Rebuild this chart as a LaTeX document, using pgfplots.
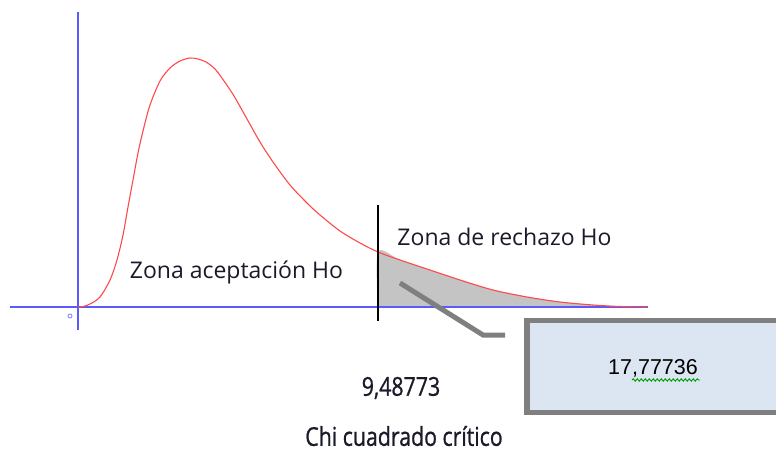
\documentclass[border=0pt]{standalone}
\usepackage{pgfplots}
\pgfplotsset{compat=1.18}
\usepackage{fontspec}
\usepackage{graphicx}
\usetikzlibrary{decorations.pathmorphing}
\setmainfont{Open Sans}
\newfontfamily\arialf{Liberation Sans}
\newfontfamily\condf[FakeBold=1.0]{Open Sans}
\definecolor{axblue}{HTML}{5A5AFF}
\definecolor{curvered}{HTML}{FF4848}
\definecolor{boxfill}{HTML}{DCE6F2}
\definecolor{boxgray}{HTML}{7F7F7F}
\definecolor{shade}{HTML}{C4C4C4}
\definecolor{txt}{HTML}{1A1A2A}
\begin{document}
\begin{tikzpicture}
\begin{axis}[
  x=1pt, y=1pt,
  xmin=-78, xmax=698, ymin=-144, ymax=307,
  hide axis, clip=true,
]
\coordinate (bl) at (rel axis cs:0,0);
\coordinate (tr) at (rel axis cs:1,1);
% shaded rejection region
\addplot[fill=shade, draw=none, smooth, tension=0.5] coordinates {
(300,0)(300,55)(322,47)(349,38)(382,27)(415,17)(449,10)(482,5)(515,2)(542,0.5)(569,0)
} \closedcycle;
% axes
\addplot[draw=axblue, color=axblue, line width=1.6pt] coordinates {(-68,0)(570,0)};
\addplot[draw=axblue, color=axblue, line width=1.6pt] coordinates {(0,295)(0,-23)};
% chi-square curve
\addplot[draw=curvered, line width=1.1pt, smooth, tension=0.5] coordinates {
(0,0)(5,0.5)(12,3)(22,10)(32,27)(39,47)(45,72)(50,100)(55,127)(60,154)(65,176)(72,202)(82,226)(92,239)(102,246)(112,249)(120,248)(128,245)(137,238)(146,226)(156,211)(169,188)(182,165)(195,145)(212,122)(229,104)(242,92)(262,76)(282,64)(300,55)(322,47)(349,38)(382,27)(415,17)(449,10)(482,5)(515,2)(542,0.5)(569,0)
};
% critical value line
\addplot[draw=black, line width=1.3pt] coordinates {(300,102)(300,-14)};
% small origin circle
\draw[axblue!70, line width=0.9pt] (axis cs:-8,-9) circle[radius=2pt];
% leader line
\draw[boxgray, line width=5pt] (axis cs:322,24) -- (axis cs:405,-28) -- (axis cs:427,-28);
% value box (right side cut by the picture edge)
\fill[boxfill] (axis cs:449,-13.5) rectangle (axis cs:760,-105.5);
\draw[boxgray, line width=5.5pt] (axis cs:760,-13.5) -- (axis cs:449,-13.5) -- (axis cs:449,-105.5) -- (axis cs:760,-105.5);
\node[text=black, font=\arialf\fontsize{21.5}{21.5}\selectfont] at (axis cs:575,-61) {17,77736};
\draw[green!60!black, line width=0.9pt, decorate, decoration={snake, amplitude=1.2pt, segment length=4pt}] (axis cs:554,-73) -- (axis cs:622,-73);
% labels
\node[text=txt, font=\fontsize{23}{23}\selectfont] at (axis cs:158.5,35) {Zona aceptación Ho};
\node[text=txt, font=\fontsize{23}{23}\selectfont] at (axis cs:426.5,70) {Zona de rechazo Ho};
\node[text=txt] at (axis cs:323,-81) {\scalebox{0.82}[1]{\condf\fontsize{26}{26}\selectfont 9,48773}};
\node[text=txt] at (axis cs:326,-129) {\scalebox{0.82}[1]{\condf\fontsize{26}{26}\selectfont Chi cuadrado crítico}};
\end{axis}
\pgfresetboundingbox
\useasboundingbox (bl) rectangle (tr);
\end{tikzpicture}
\end{document}
